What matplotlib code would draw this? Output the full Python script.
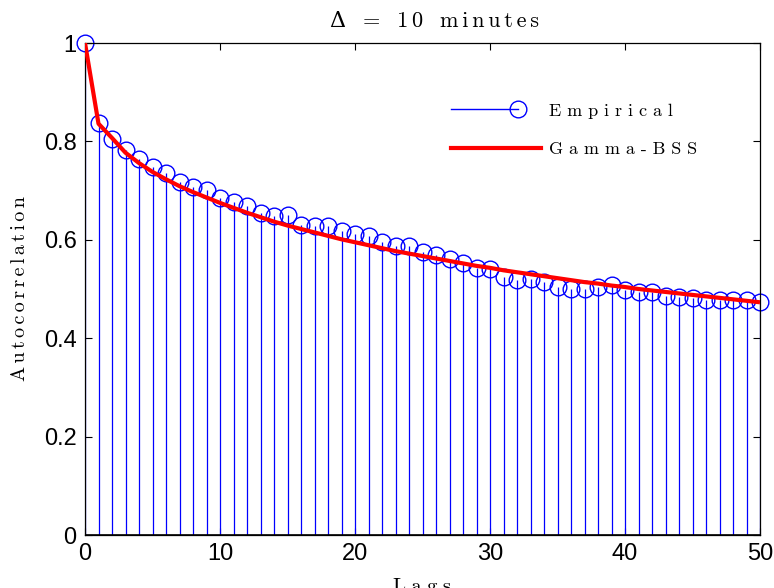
import matplotlib
matplotlib.use('Agg')
import matplotlib.pyplot as plt
from matplotlib.lines import Line2D
from matplotlib.legend_handler import HandlerBase

lags = list(range(51))
empirical = [1.000, 0.837, 0.804, 0.783, 0.764, 0.747, 0.735, 0.718, 0.707, 0.701,
             0.684, 0.676, 0.669, 0.654, 0.649, 0.650, 0.631, 0.629, 0.629, 0.618,
             0.611, 0.608, 0.595, 0.587, 0.587, 0.576, 0.569, 0.560, 0.552, 0.542,
             0.540, 0.525, 0.518, 0.520, 0.515, 0.504, 0.501, 0.499, 0.505, 0.508,
             0.497, 0.493, 0.493, 0.485, 0.483, 0.481, 0.478, 0.478, 0.478, 0.478,
             0.473]
gamma_bss = [1.000, 0.836, 0.807, 0.777, 0.756, 0.738, 0.723, 0.709, 0.697, 0.686,
             0.675, 0.665, 0.655, 0.646, 0.637, 0.629, 0.622, 0.615, 0.608, 0.601,
             0.595, 0.589, 0.583, 0.577, 0.572, 0.567, 0.562, 0.557, 0.552, 0.547,
             0.543, 0.538, 0.534, 0.530, 0.526, 0.522, 0.518, 0.514, 0.511, 0.507,
             0.504, 0.500, 0.497, 0.494, 0.491, 0.488, 0.485, 0.482, 0.479, 0.476,
             0.473]
xticks = [0, 10, 20, 30, 40, 50]
yticks = [0, 0.2, 0.4, 0.6, 0.8, 1.0]
yticklabels = ['0', '0.2', '0.4', '0.6', '0.8', '1']
title_words = ['\u0394', '=', '10', 'minutes']
ylabel_text = 'Autocorrelation'
xlabel_text = 'Lags'
legend_labels = ['Empirical', 'Gamma-BSS']

SERIF = ['cmr10', 'DejaVu Serif']
SP3 = '\u2004'   # 1/3 em
SP4 = '\u2005'   # 1/4 em
SP6 = '\u2006'   # 1/6 em


def spaced(s, sp):
    return sp.join(s)


fig = plt.figure(figsize=(7.74, 5.88), dpi=100)
ax = fig.add_axes([85 / 774, 1 - 535 / 588, 675 / 774, 492 / 588])

markerline, stemlines, baseline = ax.stem(lags, empirical)
markerline.set_color('#0000ff')
markerline.set_markerfacecolor('none')
markerline.set_markeredgecolor('#0000ff')
markerline.set_markersize(12)
markerline.set_markeredgewidth(1.0)
markerline.set_clip_on(False)
stemlines.set_color('#0000ff')
stemlines.set_linewidth(0.9)
baseline.set_color('black')
baseline.set_linewidth(1.2)

ax.plot(lags, gamma_bss, color='#ff0000', lw=3, zorder=4, solid_capstyle='butt')

ax.set_xlim(0, 50)
ax.set_ylim(0, 1)
ax.set_xticks(xticks)
ax.set_yticks(yticks)
ax.set_yticklabels(yticklabels)
ax.tick_params(direction='in', length=5, width=0.8, top=True, right=True,
               labelsize=17, pad=6)
for lab in ax.get_xticklabels() + ax.get_yticklabels():
    lab.set_fontfamily(['Liberation Sans', 'DejaVu Sans'])
for sp in ax.spines.values():
    sp.set_linewidth(0.9)

w = [spaced(t, SP6) for t in title_words]
title_str = w[0] + SP4 * 3 + w[1] + SP4 * 3 + w[2] + SP4 * 3 + w[3]
t = ax.set_title(title_str, family=SERIF, fontsize=16, pad=11.5)
t.set_x((330 - 85) / 675)
t.set_horizontalalignment('left')

ax.set_ylabel(spaced(ylabel_text, SP6), family=SERIF, fontsize=14.5)
ax.yaxis.set_label_coords(-0.083, 0.5)
ax.set_xlabel(spaced(xlabel_text, SP4), family=SERIF, fontsize=15, va='top')
ax.xaxis.set_label_coords(0.5, -0.088)


class StemHandler(HandlerBase):
    def create_artists(self, legend, orig_handle, xdescent, ydescent, width, height,
                       fontsize, trans):
        y = height / 2 - ydescent
        x0 = -xdescent
        xe = x0 + width * 0.74
        ln = Line2D([x0, xe], [y, y], color='#0000ff', lw=1.0)
        mk = Line2D([xe], [y], marker='o', ls='none', mfc='none', mec='#0000ff',
                    ms=12, mew=1.0)
        ln.set_transform(trans)
        mk.set_transform(trans)
        return [ln, mk]


stem_proxy = Line2D([], [], color='#0000ff')
red_proxy = Line2D([], [], color='#ff0000', lw=3)
leg = ax.legend([stem_proxy, red_proxy], [spaced(l, SP3) for l in legend_labels],
                handler_map={stem_proxy: StemHandler()},
                loc='upper left', bbox_to_anchor=(451 / 774, 1 - 103 / 588),
                bbox_transform=fig.transFigure, frameon=False,
                prop={'family': SERIF, 'size': 13}, handlelength=5.0,
                handletextpad=0.45, labelspacing=1.25, borderpad=0, borderaxespad=0)

fig.savefig('out.png', dpi=100)
